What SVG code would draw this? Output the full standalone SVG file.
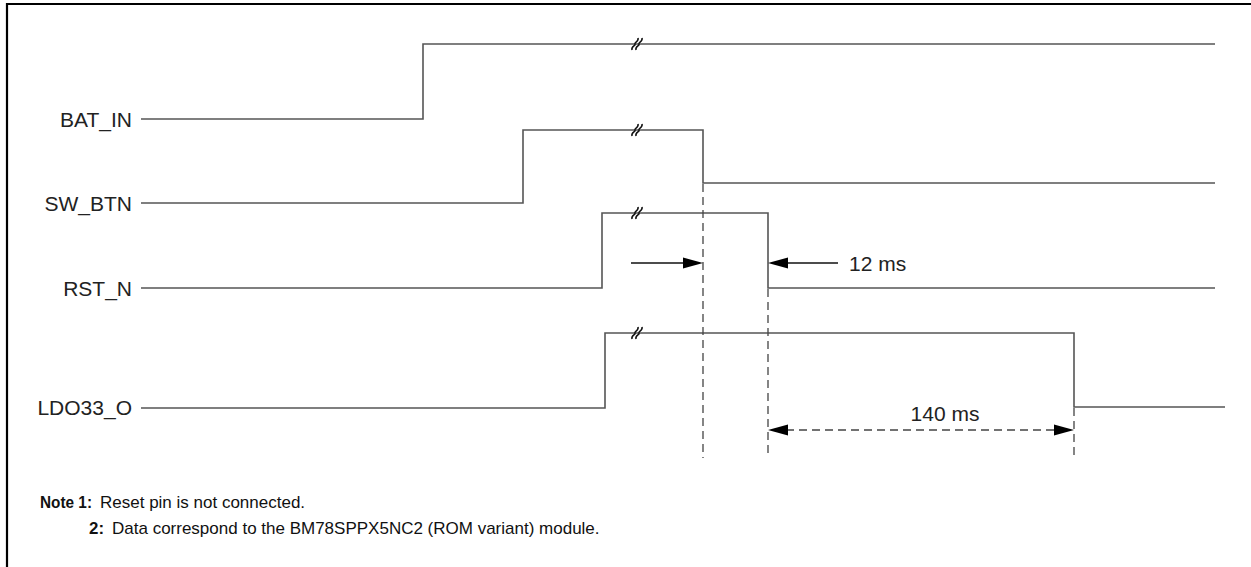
<svg xmlns="http://www.w3.org/2000/svg" width="1251" height="567" viewBox="0 0 1251 567">
<style>
.sig{fill:none;stroke:#555;stroke-width:1.6}
.dash{fill:none;stroke:#444;stroke-width:1.3;stroke-dasharray:8,5}
.brk{fill:none;stroke:#111;stroke-width:1.6}
.arr{fill:none;stroke:#111;stroke-width:1.3}
.ah{fill:#000}
.lbl{font-family:"Liberation Sans",Arial,sans-serif;font-size:21px;fill:#222}
.note{font-family:"Liberation Sans",Arial,sans-serif;font-size:17px;fill:#111}
.b{font-weight:bold}
</style>
<defs>
<path id="brk" class="brk" d="M-5,6 C-6,2 -1,2 -2,0 C-3,-2 2,-2 1,-6 M-1,6 C-2,2 3,2 2,0 C1,-2 6,-2 5,-6"/>
</defs>
<rect width="1251" height="567" fill="#fff"/>
<g id="frame">
<line x1="6" y1="4" x2="1251" y2="4" stroke="#000" stroke-width="2.2"/>
<line x1="7" y1="3" x2="7" y2="567" stroke="#000" stroke-width="2.2"/>
</g>
<g id="BAT_IN">
<text class="lbl" x="132" y="127" text-anchor="end">BAT_IN</text>
<path class="sig" d="M141,119 H423 V44 H1215"/>
<use href="#brk" x="637" y="44"/>
</g>
<g id="SW_BTN">
<text class="lbl" x="132" y="211" text-anchor="end">SW_BTN</text>
<path class="sig" d="M141,203 H523 V130 H703 V183 H1215"/>
<use href="#brk" x="637" y="130"/>
</g>
<g id="RST_N">
<text class="lbl" x="132" y="296" text-anchor="end">RST_N</text>
<path class="sig" d="M141,288 H602 V213 H768 V288 H1215"/>
<use href="#brk" x="637" y="213"/>
</g>
<g id="LDO33_O">
<text class="lbl" x="132" y="415" text-anchor="end">LDO33_O</text>
<path class="sig" d="M141,408 H605 V333 H1074 V407 H1225"/>
<use href="#brk" x="637" y="333"/>
</g>
<g id="connectors">
<line class="dash" x1="703" y1="184" x2="703" y2="458"/>
<line class="dash" x1="768" y1="289" x2="768" y2="458"/>
<line class="dash" x1="1074" y1="408" x2="1074" y2="455"/>
<line class="arr" x1="631" y1="263" x2="684" y2="263"/>
<polygon class="ah" points="703,263 683,257.5 683,268.5"/>
<line class="arr" x1="786" y1="263" x2="838" y2="263"/>
<polygon class="ah" points="768,263 788,257.5 788,268.5"/>
<line class="dash" x1="786" y1="430" x2="1056" y2="430" stroke-dasharray="7,5"/>
<polygon class="ah" points="768,430 788,424.5 788,435.5"/>
<polygon class="ah" points="1074,430 1054,424.5 1054,435.5"/>
<text class="lbl" x="849" y="271">12 ms</text>
<text class="lbl" x="945" y="421" text-anchor="middle">140 ms</text>
</g>
<g id="notes">
<text class="note b" x="40" y="508" textLength="52" lengthAdjust="spacingAndGlyphs">Note 1:</text>
<text class="note" x="100" y="508">Reset pin is not connected.</text>
<text class="note b" x="89" y="534" textLength="15" lengthAdjust="spacingAndGlyphs">2:</text>
<text class="note" x="112" y="534">Data correspond to the BM78SPPX5NC2 (ROM variant) module.</text>
</g>
</svg>
